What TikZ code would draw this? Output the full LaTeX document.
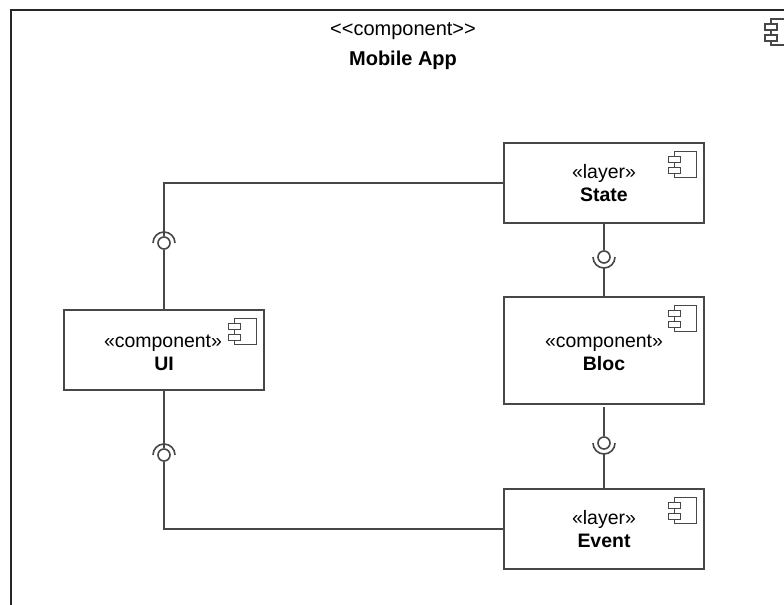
\documentclass[tikz,border=0pt]{standalone}
\usepackage{fontspec}
\setmainfont{Liberation Sans}
\newcommand{\unittext}[3]{\rule{0pt}{#1}#2\\\textbf{#3}}
\tikzset{
    wire/.style={draw=black!72, line width=1.2pt},
    unitbox/.style={wire, fill=white, minimum width=150pt, minimum height=60pt, inner sep=0pt, align=center, font=\fontsize{14.6}{17.25}\selectfont},
    lolli/.style={wire, circle, minimum size=9pt, inner sep=0pt},
    compicon/.pic={
        \draw[wire, line width=1pt] (-30,9) rectangle (-8,35);
        \draw[wire, line width=1pt, fill=white] (-36,14) rectangle (-24,20);
        \draw[wire, line width=1pt, fill=white] (-36,25) rectangle (-24,31);
    },
    sockup/.pic={\draw[wire] (-11,0) arc (180:360:11);},
    sockdown/.pic={\draw[wire] (-11,0) arc (180:0:11);}
}
\begin{document}
\begin{tikzpicture}[x=0.75pt, y=-0.75pt]
    \useasboundingbox (0,0) rectangle (784,604);
    \clip (0,0) rectangle (784,604);

    \draw[black!85, line width=1pt] (11,10) rectangle (801,660);
    \pic at (801,10) {compicon};
    \node[font=\fontsize{15}{18}\selectfont] (appkind) at (403,31) {{<}{<}component{>}{>}};
    \node[font=\fontsize{15}{18}\selectfont\bfseries] (appname) at (403,60) {Mobile App};

    \node[unitbox] (state) at (604,183) {\unittext{11pt}{«layer»}{State}};
    \node[unitbox, minimum height=80.25pt] (bloc) at (604,350.5) {\unittext{13.3pt}{«component»}{Bloc}};
    \node[unitbox] (event) at (604,529) {\unittext{10pt}{«layer»}{Event}};
    \node[unitbox] (ui) at (164,350) {\unittext{13.3pt}{«component»\hspace*{1.5pt}}{UI}};

    \pic at (state.north east) {compicon};
    \pic at (bloc.north east) {compicon};
    \pic at (event.north east) {compicon};
    \pic at (ui.north east) {compicon};

    \node[lolli] (uitop) at (164,243) {};
    \node[lolli] (uibottom) at (164,455) {};
    \node[lolli] (statelink) at (604,257) {};
    \node[lolli] (eventlink) at (604,443) {};

    \pic at (uitop.center) {sockup};
    \pic at (uibottom.center) {sockup};
    \pic at (statelink.center) {sockdown};
    \pic at (eventlink.center) {sockdown};

    \coordinate (statearc) at (604,268);
    \coordinate (blocgap) at (604,407);
    \coordinate (eventarc) at (604,454);

    \draw[wire] (state.west) -| (uitop);
    \draw[wire] (uitop) -- (ui);
    \draw[wire] (ui) -- (uibottom);
    \draw[wire] (uibottom) |- (event.west);
    \draw[wire] (state) -- (statelink);
    \draw[wire] (statearc) -- (bloc);
    \draw[wire] (blocgap) -- (eventlink);
    \draw[wire] (eventarc) -- (event);
\end{tikzpicture}
\end{document}
